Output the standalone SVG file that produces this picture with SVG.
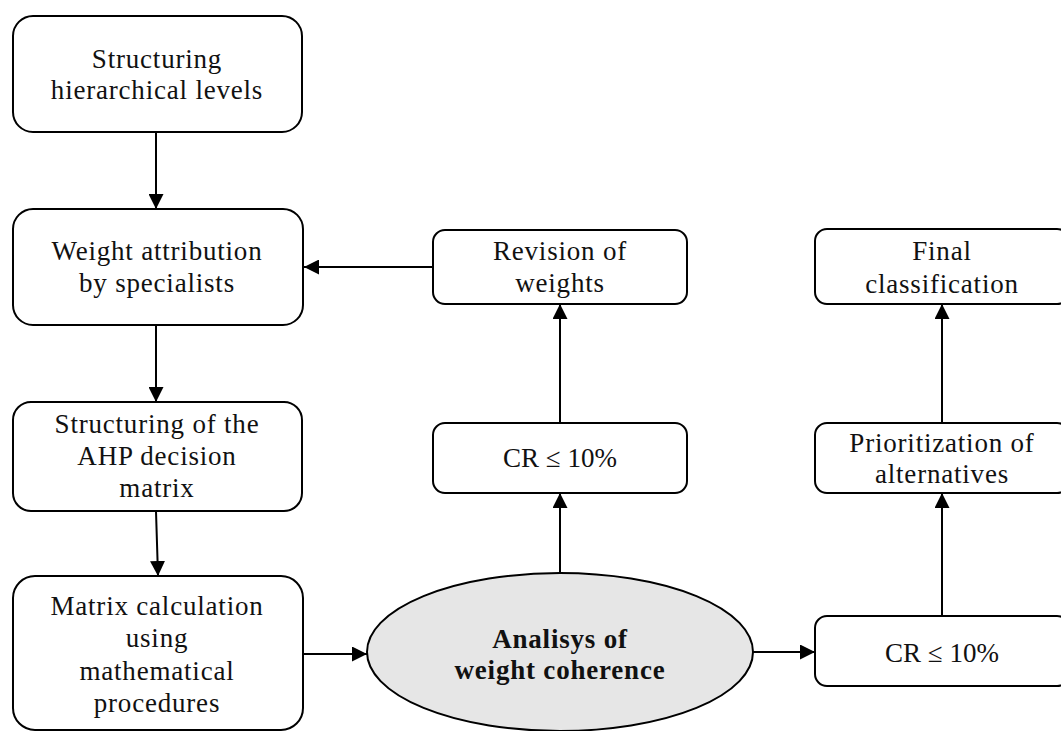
<svg xmlns="http://www.w3.org/2000/svg" width="1061" height="731" viewBox="0 0 1061 731">
<defs>
<marker id="ah" markerUnits="userSpaceOnUse" markerWidth="15" markerHeight="15" refX="15" refY="7.5" orient="auto">
<path d="M0,0 L15,7.5 L0,15 z" fill="#000"/>
</marker>
<style>
.box{fill:#fff;stroke:#000;stroke-width:2}
.ell{fill:#e6e6e6;stroke:#000;stroke-width:2}
.t{font-family:"Liberation Serif","Times New Roman",serif;font-size:27px;fill:#111;text-anchor:middle;letter-spacing:0.8px}
.b{font-weight:bold}
.cr{letter-spacing:0}
.c{fill:none;stroke:#000;stroke-width:2;marker-end:url(#ah)}
.l{fill:none;stroke:#000;stroke-width:2}
</style>
</defs>
<rect width="1061" height="731" fill="#fff"/>
<g id="connectors">
<line class="c" x1="156" y1="132" x2="156" y2="209"/>
<line class="c" x1="156" y1="325" x2="156" y2="402"/>
<line class="c" x1="156" y1="511" x2="158" y2="576"/>
<line class="c" x1="303" y1="654" x2="367" y2="654"/>
<line class="c" x1="433" y1="267" x2="304" y2="267"/>
<line class="c" x1="560" y1="573" x2="560" y2="493"/>
<line class="c" x1="560" y1="423" x2="560" y2="304"/>
<line class="c" x1="753" y1="652" x2="815" y2="652"/>
<line class="c" x1="942" y1="616" x2="942" y2="493"/>
<line class="c" x1="942" y1="423" x2="942" y2="304"/>
</g>
<g id="n1">
<rect class="box" x="13" y="16" width="289" height="116" rx="20"/>
<text class="t" x="157" y="68">Structuring</text>
<text class="t" x="157" y="99">hierarchical levels</text>
</g>
<g id="n2">
<rect class="box" x="13" y="209" width="290" height="116" rx="20"/>
<text class="t" x="157" y="260">Weight attribution</text>
<text class="t" x="157" y="292">by specialists</text>
</g>
<g id="n3">
<rect class="box" x="13" y="402" width="289" height="109" rx="18"/>
<text class="t" x="157" y="433">Structuring of the</text>
<text class="t" x="157" y="465">AHP decision</text>
<text class="t" x="157" y="497">matrix</text>
</g>
<g id="n4">
<rect class="box" x="13" y="576" width="290" height="154" rx="22"/>
<text class="t" x="157" y="615">Matrix calculation</text>
<text class="t" x="157" y="647">using</text>
<text class="t" x="157" y="680">mathematical</text>
<text class="t" x="157" y="712">procedures</text>
</g>
<g id="n5">
<ellipse class="ell" cx="560" cy="652" rx="193" ry="79"/>
<text class="t b" x="560" y="648">Analisys of</text>
<text class="t b" x="560" y="679">weight coherence</text>
</g>
<g id="n6">
<rect class="box" x="433" y="423" width="254" height="70" rx="12"/>
<text class="t cr" x="560" y="467">CR ≤ 10%</text>
</g>
<g id="n7">
<rect class="box" x="433" y="230" width="254" height="74" rx="12"/>
<text class="t" x="560" y="260">Revision of</text>
<text class="t" x="560" y="292">weights</text>
</g>
<g id="n8">
<rect class="box" x="815" y="616" width="254" height="70" rx="12"/>
<text class="t cr" x="942" y="662">CR ≤ 10%</text>
</g>
<g id="n9">
<rect class="box" x="815" y="423" width="254" height="70" rx="12"/>
<text class="t" x="942" y="452">Prioritization of</text>
<text class="t" x="942" y="483">alternatives</text>
</g>
<g id="n10">
<rect class="box" x="815" y="229" width="254" height="75" rx="12"/>
<text class="t" x="942" y="260">Final</text>
<text class="t" x="942" y="293">classification</text>
</g>
</svg>
